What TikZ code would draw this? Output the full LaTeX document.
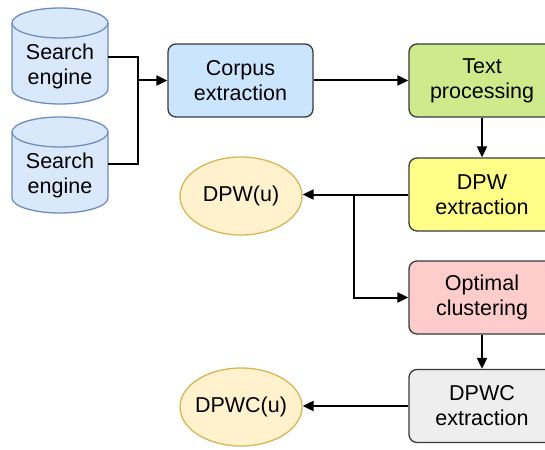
\documentclass[tikz,border=0pt]{standalone}
\usepackage{fontspec}
\setmainfont{Liberation Sans}
\usetikzlibrary{arrows.meta,shapes.geometric}
\definecolor{cylfill}{HTML}{DAE8FC}
\definecolor{cyldraw}{HTML}{6C8EBF}
\definecolor{boxdraw}{HTML}{36393D}
\definecolor{corpusfill}{HTML}{CCE5FF}
\definecolor{textfill}{HTML}{CDEB8B}
\definecolor{dpwfill}{HTML}{FFFF88}
\definecolor{optfill}{HTML}{FFCCCC}
\definecolor{dpwcfill}{HTML}{EEEEEE}
\definecolor{ellfill}{HTML}{FFF2CC}
\definecolor{elldraw}{HTML}{D6B656}
\tikzset{
  lbl/.style={font=\fontsize{21.5}{25}\selectfont, align=center, inner sep=0pt},
  procbox/.style={draw=boxdraw, line width=1.3pt, rounded corners=8pt, minimum width=146pt, minimum height=73pt, lbl},
  outell/.style={ellipse, draw=elldraw, fill=ellfill, line width=1.3pt, minimum width=122pt, minimum height=78pt, lbl, inner xsep=-10pt, inner ysep=0pt},
  cyl/.style={draw=cyldraw, fill=cylfill, line width=1.3pt},
  conn/.style={draw=black, line width=2pt},
  arr/.style={conn, -{Triangle[length=11pt,width=10pt]}},
}
\begin{document}
\begin{tikzpicture}[x=1pt,y=-1pt]
\useasboundingbox (0,0) rectangle (545,449);
\clip (0,0) rectangle (545,449);
% cylinders
\path[cyl] (12,23) -- (12,89) arc[start angle=180,end angle=0,x radius=48,y radius=15] -- (108,23) arc[start angle=0,end angle=-180,x radius=48,y radius=15] -- cycle;
\path[cyl] (12,23) arc[start angle=180,end angle=0,x radius=48,y radius=15];
\node[lbl] (cyl1) at (60,66) {Search\\engine};
\path[cyl] (12,132) -- (12,198) arc[start angle=180,end angle=0,x radius=48,y radius=15] -- (108,132) arc[start angle=0,end angle=-180,x radius=48,y radius=15] -- cycle;
\path[cyl] (12,132) arc[start angle=180,end angle=0,x radius=48,y radius=15];
\node[lbl] (cyl2) at (60,175) {Search\\engine};
\coordinate (c1out) at (108,57);
\coordinate (c2out) at (108,164);
% boxes
\node[procbox, fill=corpusfill, minimum width=145pt] (corpus) at (240.5,80.5) {Corpus\\extraction};
\node[procbox, fill=textfill] (text) at (482,80.5) {Text\\processing};
\node[procbox, fill=dpwfill] (dpw) at (482,194.5) {DPW\\extraction};
\node[procbox, fill=optfill] (opt) at (482,297.5) {Optimal\\clustering};
\node[procbox, fill=dpwcfill] (dpwc) at (482,406) {DPWC\\extraction};
% ellipses
\node[outell] (dpwu) at (241,196) {DPW(u)};
\node[outell] (dpwcu) at (241,407) {DPWC(u)};
% connectors
\coordinate (j1) at (138,80.5);
\draw[conn] (c1out) -| (j1);
\draw[conn] (c2out) -| (j1);
\draw[arr] (j1) -- (corpus.west);
\draw[arr] (corpus.east) -- (text.west);
\draw[arr] (text.south) -- (dpw.north);
\coordinate (j2) at (354,194.5);
\draw[arr] (dpw.west) -- (dpwu.east |- dpw.west);
\draw[arr] (j2) |- (opt.west);
\draw[arr] (opt.south) -- (dpwc.north);
\draw[arr] (dpwc.west) -- (dpwcu.east |- dpwc.west);
\end{tikzpicture}
\end{document}
